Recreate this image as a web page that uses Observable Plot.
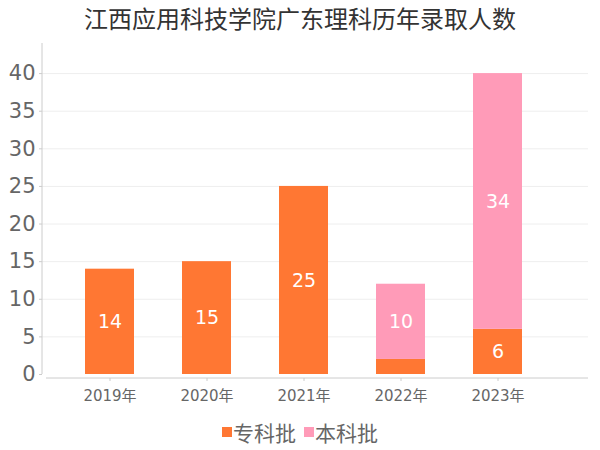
<!DOCTYPE html>
<html>
<head>
<meta charset="utf-8">
<script src="https://cdn.jsdelivr.net/npm/d3@7"></script>
<script src="https://cdn.jsdelivr.net/npm/@observablehq/plot@0.6"></script>
<style>
  body { margin: 0; background: #fff; font-family: "DejaVu Sans", "Noto Sans CJK SC", sans-serif; }
  #wrap { width: 600px; }
  #title { height: 36px; line-height: 36px; text-align: center; font-size: 24px; color: #333; font-family: "Noto Sans CJK SC", sans-serif; }
  #legend { margin-top: 10px; height: 24px; display: flex; justify-content: center; align-items: center; font-size: 21px; color: #666; font-family: "Noto Sans CJK SC", sans-serif; }
  .sw { display: inline-block; width: 10px; height: 10px; margin-right: 1px; }
  .item { display: flex; align-items: center; margin: 0 4px; }
</style>
</head>
<body>
<div id="wrap">
  <div id="title">江西应用科技学院广东理科历年录取人数</div>
  <div id="chart"></div>
  <div id="legend"></div>
</div>
<script>
const years = ["2019年", "2020年", "2021年", "2022年", "2023年"];
const zhuanke = [14, 15, 25, 2, 6];
const benke = [0, 0, 0, 10, 34];
const seriesNames = ["专科批", "本科批"];
const seriesColors = ["#ff7733", "#ff9bb8"];
const yTicks = [0, 5, 10, 15, 20, 25, 30, 35, 40];
const yMax = 44;

const data = years.flatMap((yr, i) => [
  {year: yr, series: seriesNames[0], value: zhuanke[i]},
  {year: yr, series: seriesNames[1], value: benke[i]}
]);

const marginLeft = 42, marginRight = 12, marginTop = 7, marginBottom = 32;
const chart = Plot.plot({
  width: 600,
  height: 374,
  marginLeft, marginRight, marginTop, marginBottom,
  insetLeft: 4,
  insetBottom: 4,
  style: {fontFamily: "DejaVu Sans, Noto Sans CJK SC, sans-serif", background: "#fff"},
  x: {domain: years, paddingInner: 0.5, paddingOuter: 0.53, align: 0.365, label: null},
  y: {domain: [0, yMax], label: null},
  color: {domain: seriesNames, range: seriesColors},
  marks: [
    Plot.gridY(yTicks.filter(t => t > 0), {stroke: "#eeeeee", strokeOpacity: 1}),
    Plot.axisY(yTicks, {tickSize: 3, tickPadding: 4, stroke: "#cccccc", fill: "#666", fontSize: 21, label: null}),
    Plot.axisX({tickSize: 3, tickPadding: 9, stroke: "#cccccc", fill: "#666", fontSize: 15, label: null}),
    Plot.barY(data, {x: "year", y: "value", fill: "series", z: "series"}),
    Plot.text(data, Plot.stackY({x: "year", y: "value", z: "series",
      text: d => d.value >= 5 ? String(d.value) : "", fill: "white", fontSize: 19}))
  ]
});

// axis lines
const ys = chart.scale("y");
const svg = d3.select(chart);
svg.append("line")
  .attr("x1", marginLeft).attr("x2", marginLeft)
  .attr("y1", ys.apply(yMax)).attr("y2", ys.apply(0))
  .attr("stroke", "#cccccc");
svg.append("line")
  .attr("x1", marginLeft + 4).attr("x2", 600 - marginRight)
  .attr("y1", 374 - marginBottom).attr("y2", 374 - marginBottom)
  .attr("stroke", "#cccccc");

document.getElementById("chart").appendChild(chart);

const legend = document.getElementById("legend");
seriesNames.forEach((name, i) => {
  const it = document.createElement("span");
  it.className = "item";
  const sw = document.createElement("span");
  sw.className = "sw";
  sw.style.background = seriesColors[i];
  it.appendChild(sw);
  it.appendChild(document.createTextNode(name));
  legend.appendChild(it);
});
</script>
</body>
</html>
